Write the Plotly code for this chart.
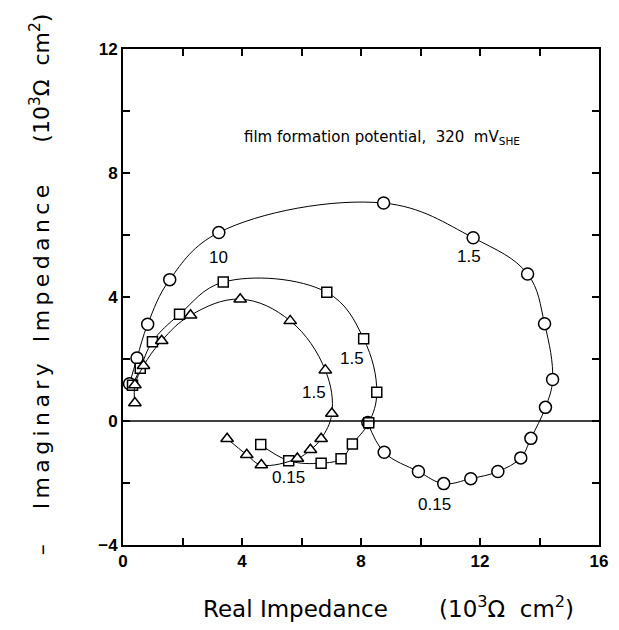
import plotly.graph_objects as go

# Circle series (outer loop)
circ_x = [0.22, 0.47, 0.83, 1.57, 3.22, 8.76, 11.77, 13.6, 14.17, 14.44, 14.2, 13.71, 13.37, 12.6, 11.69, 10.78, 9.93, 8.78, 8.23]
circ_y = [1.2, 2.03, 3.12, 4.56, 6.08, 7.03, 5.91, 4.74, 3.14, 1.34, 0.44, -0.56, -1.19, -1.63, -1.86, -2.02, -1.63, -1.01, -0.05]

# Square series
sq_x = [0.32, 0.58, 0.99, 1.9, 3.37, 6.85, 8.09, 8.53, 8.26, 7.71, 7.33, 6.66, 5.57, 4.63]
sq_y = [1.15, 1.70, 2.56, 3.44, 4.48, 4.15, 2.65, 0.93, -0.06, -0.74, -1.22, -1.36, -1.28, -0.76]

# Triangle series
tri_x = [0.40, 0.40, 0.69, 1.30, 2.27, 3.94, 5.62, 6.8, 7.02, 6.66, 6.3, 5.86, 4.65, 4.16, 3.5]
tri_y = [0.58, 1.16, 1.78, 2.59, 3.41, 3.93, 3.23, 1.64, 0.24, -0.57, -0.93, -1.21, -1.42, -1.09, -0.57]

# Frequency labels
lab_text = ["10", "1.5", "1.5", "1.5", "0.15", "0.15"]
lab_x = [3.22, 11.64, 7.71, 6.41, 5.56, 10.48]
lab_y = [5.27, 5.30, 2.03, 0.93, -1.83, -2.70]

x_ticks = [0, 2, 4, 6, 8, 10, 12, 14, 16]
x_ticktext = ["<b>0</b>", "", "<b>4</b>", "", "<b>8</b>", "", "<b>12</b>", "", "<b>16</b>"]
y_ticks = [-4, -2, 0, 2, 4, 6, 8, 10, 12]
y_ticktext = ["<b>\u22124</b>", "", "<b>0</b>", "", "<b>4</b>", "", "<b>8</b>", "", "<b>12</b>"]

fig = go.Figure()

def add_series(xs, ys, symbol, size):
    fig.add_trace(go.Scatter(
        x=xs, y=ys, mode="lines+markers",
        line=dict(color="black", width=1, shape="spline", smoothing=1.1),
        marker=dict(symbol=symbol, size=size, color="white",
                    line=dict(color="black", width=1.5)),
        showlegend=False, cliponaxis=False,
    ))

add_series(circ_x, circ_y, "circle", 12)
add_series(sq_x, sq_y, "square", 10)
add_series(tri_x, tri_y, "triangle-up", 11)

for t, x, y in zip(lab_text, lab_x, lab_y):
    fig.add_annotation(x=x, y=y, text=t, showarrow=False,
                       font=dict(family="Liberation Sans", size=17, color="black"))

fig.add_annotation(x=8.7, y=9.15,
                   text="film formation potential,\u00a0 320\u00a0 mV<sub>SHE</sub>",
                   showarrow=False,
                   font=dict(family="DejaVu Sans", size=15, color="black"))

fig.add_shape(type="line", x0=0, x1=16, y0=0, y1=0, xref="x", yref="y",
              line=dict(color="black", width=1.5))

def spaced(word):
    return "\u2009".join(word)

nb = "\u00a0"
# Axis titles
fig.add_annotation(xref="paper", yref="paper", x=0.557, y=-0.125,
                   text="Real" + nb + "Impedance" + nb * 7 + "(10<sup>3</sup>\u03a9" + nb * 2 + "cm<sup>2</sup>)",
                   showarrow=False, xanchor="center", yanchor="middle",
                   font=dict(family="DejaVu Sans", size=23, color="black"))
fig.add_annotation(xref="paper", yref="paper", x=-0.175, y=0.525, textangle=-90,
                   text="\u2013" + nb * 5 + spaced("Imaginary") + nb * 3 + spaced("Impedance") + nb * 6
                        + "(10<sup>3</sup>\u03a9" + nb * 2 + "cm<sup>2</sup>)",
                   showarrow=False, xanchor="center", yanchor="middle",
                   font=dict(family="DejaVu Sans", size=22, color="black"))

axis_common = dict(showline=True, linecolor="black", linewidth=2, mirror="allticks",
                   ticks="inside", ticklen=7, tickwidth=1.5, tickcolor="black",
                   showgrid=False, zeroline=False,
                   tickfont=dict(family="Liberation Sans", size=17, color="black"))

fig.update_xaxes(range=[0, 16], tickvals=x_ticks, ticktext=x_ticktext, **axis_common)
fig.update_yaxes(range=[-4, 12], tickvals=y_ticks, ticktext=y_ticktext, **axis_common)

fig.update_layout(width=619, height=630, plot_bgcolor="white", paper_bgcolor="white",
                  margin=dict(l=123, r=11, t=49, b=85))

fig.write_html("out.html")
